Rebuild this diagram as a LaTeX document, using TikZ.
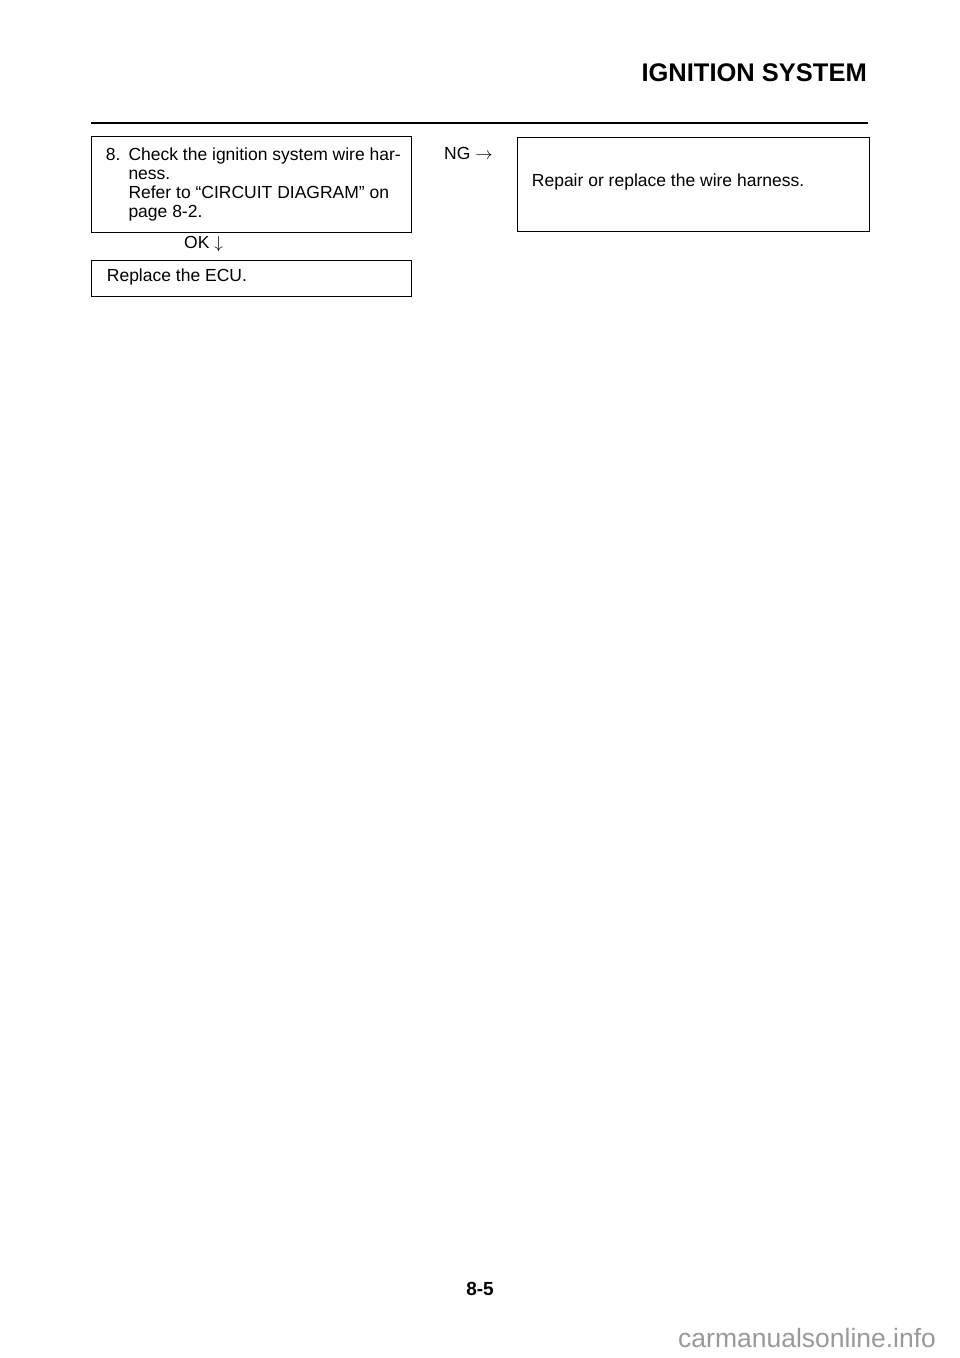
\documentclass[tikz,border=0pt]{standalone}
\usepackage{fontspec}
\setmainfont{Liberation Sans}
\begin{document}
\begin{tikzpicture}[x=1pt,y=-1pt,
  boxframe/.style={draw=black,line width=1pt,rectangle,inner sep=0pt},
  bodytext/.style={inner sep=0pt,anchor=base west,font=\fontsize{17.5}{19}\selectfont},
]
\useasboundingbox (0,0) rectangle (960,1358);
% header
\node[inner sep=0pt,anchor=base east,font=\fontsize{25.5}{30}\selectfont\bfseries] (title) at (867,81.7) {IGNITION SYSTEM};
\coordinate (ruleL) at (91,123);
\coordinate (ruleR) at (868,123);
\draw[line width=2.5pt] (ruleL) -- (ruleR);
% boxes
\node[boxframe,minimum width=320pt,minimum height=95.5pt] (box1) at (251,184.25) {};
\node[boxframe,minimum width=351.7pt,minimum height=94.4pt] (box2) at (693.15,184.5) {};
\node[boxframe,minimum width=320pt,minimum height=36pt] (box3) at (251,278) {};
% texts
\node[bodytext] (num) at (105.7,160) {8.};
\node[bodytext] (t1a) at (128.3,160) {Check the ignition system wire har-};
\node[bodytext] (t1b) at (128.3,179) {ness.};
\node[bodytext] (t1c) at (128.3,198.3) {Refer to “CIRCUIT DIAGRAM” on};
\node[bodytext] (t1d) at (128.3,217.3) {page 8-2.};
\node[bodytext] (ok) at (184,248.3) {OK $\downarrow$};
\node[bodytext] (ng) at (444,159.3) {NG $\rightarrow$};
\node[bodytext] (t2) at (531.7,186.7) {Repair or replace the wire harness.};
\node[bodytext] (t3) at (106.7,281.7) {Replace the ECU.};
% footer
\node[inner sep=0pt,anchor=base,font=\fontsize{19}{22}\selectfont\bfseries] (page) at (480,1295) {8-5};
\node[inner sep=0pt,anchor=base west,text=black!40,font=\fontsize{26.5}{30}\selectfont] (wm) at (678,1347) {carmanualsonline.info};
\end{tikzpicture}
\end{document}
